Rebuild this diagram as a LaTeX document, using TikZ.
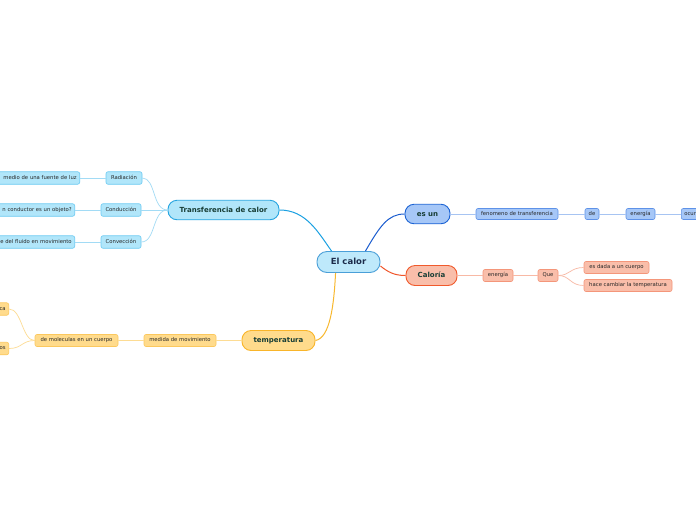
\documentclass[tikz,border=0pt]{standalone}
\usepackage{fontspec}
\setmainfont{DejaVu Sans}
\begin{document}
\begin{tikzpicture}[x=1pt,y=-1pt,
  leaf/.style={draw, rounded corners=2pt, line width=0.6pt, minimum height=12.5pt, inner xsep=3pt, inner ysep=1pt, text height=4pt, text depth=1.2pt, font=\fontsize{5.3}{6}\selectfont, text=black!85},
  mainnode/.style={draw, rounded corners=9pt, line width=0.9pt, minimum height=19.5pt, inner xsep=4pt, text height=5.6pt, text depth=1.6pt, font=\bfseries\fontsize{7}{8}\selectfont},
  cutleft/.style={leaf, anchor=east, text width=90pt, align=right},
  blueL/.style={leaf, fill=tbfill, draw=tbleaf},
  navyL/.style={leaf, fill=nvfill, draw=nvleaf},
  redL/.style={leaf, fill=rdfill, draw=rdleaf},
  yelL/.style={leaf, fill=ylfill, draw=ylleaf},
]
\definecolor{tbfill}{HTML}{B1E6FA}
\definecolor{tbleaf}{HTML}{6CCAF2}
\definecolor{tbmain}{HTML}{27A5E0}
\definecolor{tbline}{HTML}{A2DBF5}
\definecolor{tbedge}{HTML}{1BA1E2}
\definecolor{nvfill}{HTML}{A6C7F7}
\definecolor{nvleaf}{HTML}{5E92E8}
\definecolor{nvmain}{HTML}{1C63D4}
\definecolor{nvline}{HTML}{A7C4F2}
\definecolor{nvedge}{HTML}{1A5CCF}
\definecolor{rdfill}{HTML}{F9BEAA}
\definecolor{rdleaf}{HTML}{F4967A}
\definecolor{rdmain}{HTML}{F05A2C}
\definecolor{rdline}{HTML}{F8B9A5}
\definecolor{rdedge}{HTML}{F0552A}
\definecolor{ylfill}{HTML}{FFDB8C}
\definecolor{ylleaf}{HTML}{FBC85E}
\definecolor{ylmain}{HTML}{F9B52A}
\definecolor{ylline}{HTML}{FDDC94}
\definecolor{yledge}{HTML}{F8B82E}
\definecolor{rootfill}{HTML}{BEE9FB}
\definecolor{rootdraw}{HTML}{4A9FD8}
\definecolor{roottext}{HTML}{1C2B4A}
\definecolor{maintext}{HTML}{173D35}

\fill[white] (0,0) rectangle (696,520);
\useasboundingbox (0,0) rectangle (696,520);

% root
\node[mainnode, fill=rootfill, draw=rootdraw, text=roottext, minimum width=63pt, minimum height=21pt, rounded corners=10pt, text height=6.6pt, text depth=1.8pt, font=\bfseries\fontsize{8.5}{10}\selectfont] (root) at (348.5,262) {El calor};

% Transferencia branch
\node[mainnode, fill=tbfill, draw=tbmain, text=maintext, minimum width=111pt] (tc) at (223.5,210) {Transferencia de calor};
\node[blueL, minimum width=36pt] (rad) at (124,178) {Radiación};
\node[blueL, minimum width=40pt] (cond) at (121,210) {Conducción};
\node[blueL, minimum width=40pt] (conv) at (121,242) {Convección};
\node[cutleft, fill=tbfill, draw=tbleaf] (radl) at (80,178) {medio de una fuente de luz};
\node[cutleft, fill=tbfill, draw=tbleaf] (condl) at (75,210) {n conductor es un objeto?};
\node[cutleft, fill=tbfill, draw=tbleaf] (convl) at (75,242) {e del fluido en movimiento};

% es un branch
\node[mainnode, fill=nvfill, draw=nvmain, text=maintext, minimum width=45pt] (es) at (427.5,214) {es un};
\node[navyL, minimum width=82pt, minimum height=11pt] (fen) at (517,214) {fenomeno de transferencia};
\node[navyL, minimum width=14pt, minimum height=11pt] (de) at (592,214) {de};
\node[navyL, minimum width=29pt, minimum height=11pt] (ene1) at (640.5,214) {energía};
\node[navyL, anchor=west, minimum height=11pt] (ocu) at (681,214) {ocurre};

% Caloria branch
\node[mainnode, fill=rdfill, draw=rdmain, text=maintext, minimum width=51pt, minimum height=20pt] (cal) at (431.5,275.5) {Caloría};
\node[redL, minimum width=30pt, minimum height=12pt] (ene2) at (498,275.5) {energía};
\node[redL, minimum width=20pt, minimum height=12pt] (que) at (548,275.5) {Que};
\node[redL, minimum width=65pt, minimum height=12pt] (dada) at (616.5,267.5) {es dada a un cuerpo};
\node[redL, minimum width=88pt, minimum height=12pt] (hace) at (628,285.5) {hace cambiar la temperatura};

% temperatura branch
\node[mainnode, fill=ylfill, draw=ylmain, text=maintext, minimum width=73pt, minimum height=20pt] (temp) at (278.5,340.5) {temperatura};
\node[yelL, minimum width=72pt, minimum height=12pt] (med) at (180,340.5) {medida de movimiento};
\node[yelL, minimum width=83pt, minimum height=12pt] (mol) at (76.5,340.5) {de moleculas en un cuerpo};
\node[yelL, anchor=east, text width=40pt, align=right, minimum height=12.5pt] (ca) at (9,309) {ca};
\node[yelL, anchor=east, text width=40pt, align=right, minimum height=12.5pt] (os) at (9,348.5) {os};

% main connectors
\begin{scope}[line width=1pt]
\draw[tbedge] ([xshift=15pt]root.north west) .. controls (318,232) and (306,210) .. (tc.east);
\draw[nvedge] ([xshift=-15pt]root.north east) .. controls (380,226) and (388,214) .. (es.west);
\draw[rdedge] ([yshift=-4pt]root.east) .. controls (388,272) and (394,275.5) .. (cal.west);
\draw[yledge] ([xshift=19pt]root.south west) .. controls (334,305) and (330,338) .. (temp.east);
\end{scope}

% sub connectors
\begin{scope}[line width=0.7pt]
\draw[tbline] (tc.west) .. controls (152,210) and (156,178) .. (rad.east);
\draw[tbline] (tc.west) -- (cond.east);
\draw[tbline] (tc.west) .. controls (152,210) and (156,242) .. (conv.east);
\draw[tbline] (rad.west) -- (radl.east);
\draw[tbline] (cond.west) -- (condl.east);
\draw[tbline] (conv.west) -- (convl.east);

\draw[nvline] (es.east) -- (fen.west);
\draw[nvline] (fen.east) -- (de.west);
\draw[nvline] (de.east) -- (ene1.west);
\draw[nvline] (ene1.east) -- (ocu.west);

\draw[rdline] (cal.east) -- (ene2.west);
\draw[rdline] (ene2.east) -- (que.west);
\draw[rdline] (que.east) .. controls (570,275.5) and (570,267.5) .. (dada.west);
\draw[rdline] (que.east) .. controls (570,275.5) and (570,285.5) .. (hace.west);

\draw[ylline] (temp.west) -- (med.east);
\draw[ylline] (med.west) -- (mol.east);
\draw[ylline] (mol.west) .. controls (22,340.5) and (22,309) .. (ca.east);
\draw[ylline] (mol.west) .. controls (22,340.5) and (22,348.5) .. (os.east);
\end{scope}
\end{tikzpicture}
\end{document}
